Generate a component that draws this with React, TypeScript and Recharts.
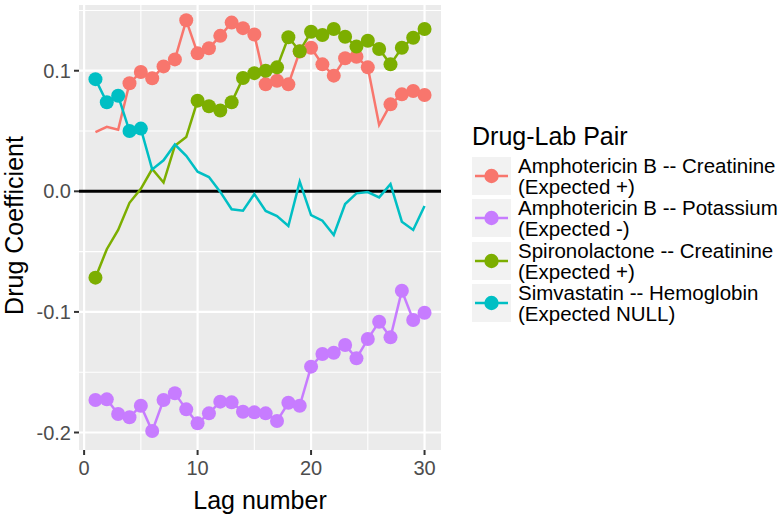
import { CartesianGrid, Line, LineChart, ReferenceLine, XAxis, YAxis } from "recharts";

// Lagged drug coefficients for four drug–lab pairs, ggplot-style panel.
// Markers only appear where a lag was flagged (1 = marker, 0 = line only).

const lags = [1, 2, 3, 4, 5, 6, 7, 8, 9, 10, 11, 12, 13, 14, 15, 16, 17, 18, 19, 20, 21, 22, 23, 24, 25, 26, 27, 28, 29, 30];

const ampCreatinine = [
  0.049, 0.0535, 0.051, 0.0896, 0.099, 0.0937, 0.1036, 0.1094, 0.1418, 0.1144,
  0.1186, 0.1289, 0.1399, 0.1353, 0.13, 0.0888, 0.0917, 0.0887, 0.116, 0.119,
  0.1053, 0.0959, 0.1103, 0.1116, 0.1028, 0.055, 0.0721, 0.0804, 0.0832, 0.0799,
];
const ampCreatinineSig = [0, 0, 0, 1, 1, 1, 1, 1, 1, 1, 1, 1, 1, 1, 1, 1, 1, 1, 1, 1, 1, 1, 1, 1, 1, 0, 1, 1, 1, 1];

const ampPotassium = [
  -0.173, -0.1725, -0.1847, -0.1874, -0.1778, -0.1988, -0.173, -0.1675, -0.1808, -0.1924,
  -0.1841, -0.1744, -0.175, -0.1828, -0.1833, -0.1841, -0.1905, -0.1753, -0.1778, -0.1454,
  -0.1349, -0.1338, -0.1274, -0.1385, -0.1225, -0.1081, -0.1211, -0.0824, -0.1067, -0.1007,
];
const ampPotassiumSig = [1, 1, 1, 1, 1, 1, 1, 1, 1, 1, 1, 1, 1, 1, 1, 1, 1, 1, 1, 1, 1, 1, 1, 1, 1, 1, 1, 1, 1, 1];

const spiroCreatinine = [
  -0.0716, -0.048, -0.032, -0.0095, 0.002, 0.0185, 0.0073, 0.0378, 0.045, 0.0752,
  0.0706, 0.067, 0.0738, 0.094, 0.098, 0.1, 0.1028, 0.1277, 0.1162, 0.1323,
  0.1296, 0.1346, 0.1282, 0.12, 0.1249, 0.118, 0.1053, 0.119, 0.1274, 0.1346,
];
const spiroCreatinineSig = [1, 0, 0, 0, 0, 0, 0, 0, 0, 1, 1, 1, 1, 1, 1, 1, 1, 1, 1, 1, 1, 1, 1, 1, 1, 1, 1, 1, 1, 1];

const simvaHemoglobin = [
  0.093, 0.0738, 0.0792, 0.05, 0.052, 0.0182, 0.0257, 0.0388, 0.0294, 0.0163,
  0.0118, -0.0005, -0.0149, -0.0161, -0.0022, -0.0163, -0.0205, -0.0288, 0.008, -0.0197,
  -0.0244, -0.0362, -0.0105, -0.0017, -0.0006, -0.005, 0.006, -0.0252, -0.032, -0.0122,
];
const simvaHemoglobinSig = [1, 1, 1, 1, 1, 0, 0, 0, 0, 0, 0, 0, 0, 0, 0, 0, 0, 0, 0, 0, 0, 0, 0, 0, 0, 0, 0, 0, 0, 0];

const xTicks = [0, 10, 20, 30];
const xMinor = [5, 15, 25];
const yTicks = [-0.2, -0.1, 0, 0.1];
const yMinor = [-0.15, -0.05, 0.05, 0.15];

const FONT = "'Liberation Sans', Arial, Helvetica, sans-serif";

const series = [
  { key: "ampCr", title: "Amphotericin B -- Creatinine", note: "(Expected +)", color: "#F8766D", values: ampCreatinine, sig: ampCreatinineSig },
  { key: "ampK", title: "Amphotericin B -- Potassium", note: "(Expected -)", color: "#C77CFF", values: ampPotassium, sig: ampPotassiumSig },
  { key: "spiroCr", title: "Spironolactone -- Creatinine", note: "(Expected +)", color: "#7CAE00", values: spiroCreatinine, sig: spiroCreatinineSig },
  { key: "simvaHb", title: "Simvastatin -- Hemoglobin", note: "(Expected NULL)", color: "#00BFC4", values: simvaHemoglobin, sig: simvaHemoglobinSig },
];

const data = lags.map((lag, i) => {
  const row: Record<string, number> = { lag };
  series.forEach((s) => (row[s.key] = s.values[i]));
  return row;
});

const tickStyle = { fill: "#4D4D4D", fontSize: 20, fontFamily: FONT };

function XTitle({ viewBox }: any) {
  return (
    <text x={viewBox.x + viewBox.width / 2} y={viewBox.y + 58.6} textAnchor="middle" fontSize={25} fontFamily={FONT} fill="#000">
      Lag number
    </text>
  );
}

function YTitle({ viewBox }: any) {
  const x = viewBox.x + 22.5;
  const y = viewBox.y + viewBox.height / 2 - 2;
  return (
    <text x={x} y={y} transform={`rotate(-90, ${x}, ${y})`} textAnchor="middle" fontSize={25} fontFamily={FONT} fill="#000">
      Drug Coefficient
    </text>
  );
}

// Legend drawn as HTML next to the panel: grey key boxes, two-line labels.
function Legend() {
  return (
    <div style={{ position: "absolute", left: 472, top: 124, fontFamily: FONT, color: "#000" }}>
      <div style={{ fontSize: 25, lineHeight: "25px", height: 30.8 }}>Drug-Lab Pair</div>
      {series.map((s) => (
        <div key={s.key} style={{ display: "flex", alignItems: "center", height: 42.4 }}>
          <svg width={39} height={38} style={{ display: "block", background: "#F2F2F2" }}>
            <line x1={3} x2={36} y1={19} y2={19} stroke={s.color} strokeWidth={2.5} />
            <circle cx={19.5} cy={19} r={7.2} fill={s.color} />
          </svg>
          <div style={{ marginLeft: 7, fontSize: 20.5, lineHeight: "21px", whiteSpace: "nowrap" }}>
            <div>{s.title}</div>
            <div>{s.note}</div>
          </div>
        </div>
      ))}
    </div>
  );
}

export default function App() {
  return (
    <div style={{ position: "absolute", left: 0, top: 0, width: 781, height: 515, background: "#fff" }}>
      <LineChart width={781} height={515} data={data} margin={{ top: 5, right: 340, bottom: 0, left: 0 }}>
        <CartesianGrid
          fill="#EBEBEB"
          stroke="#FFFFFF"
          strokeWidth={1.1}
          horizontalValues={yMinor}
          verticalValues={xMinor}
        />
        <CartesianGrid stroke="#FFFFFF" strokeWidth={2.2} horizontalValues={yTicks} verticalValues={xTicks} />
        <XAxis
          type="number"
          dataKey="lag"
          domain={[-0.45, 31.45]}
          ticks={xTicks}
          allowDataOverflow
          height={65}
          axisLine={false}
          tickLine={{ stroke: "#333333", strokeWidth: 2 }}
          tickSize={5}
          tickMargin={6}
          tick={tickStyle}
          label={<XTitle />}
        />
        <YAxis
          type="number"
          domain={[-0.2145, 0.1545]}
          ticks={yTicks}
          allowDataOverflow
          width={79}
          axisLine={false}
          tickLine={{ stroke: "#333333", strokeWidth: 2 }}
          tickSize={5}
          tickMargin={3}
          tick={tickStyle}
          tickFormatter={(v: number) => v.toFixed(1)}
          label={<YTitle />}
        />
        <ReferenceLine y={0} stroke="#000000" strokeWidth={3} />
        {series.map((s) => (
          <Line
            key={s.key}
            dataKey={s.key}
            type="linear"
            stroke={s.color}
            strokeWidth={2.5}
            activeDot={false}
            isAnimationActive={false}
            dot={(p: any) =>
              s.sig[p.index] ? (
                <circle key={`${s.key}-${p.index}`} cx={p.cx} cy={p.cy} r={7} fill={s.color} />
              ) : (
                <g key={`${s.key}-${p.index}`} />
              )
            }
          />
        ))}
      </LineChart>
      <Legend />
    </div>
  );
}
